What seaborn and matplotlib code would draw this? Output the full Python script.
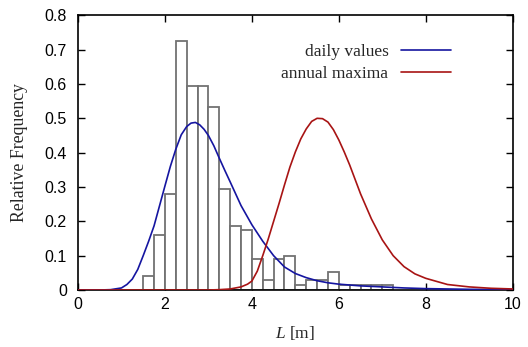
import numpy as np
import pandas as pd
import matplotlib
matplotlib.use("Agg")
import matplotlib.pyplot as plt
import seaborn as sns

# histogram: left edges of bins (width 0.25) and relative frequencies
bin_left = [1.5, 1.75, 2.0, 2.25, 2.5, 2.75, 3.0, 3.25, 3.5, 3.75, 4.0, 4.25,
            4.5, 4.75, 5.0, 5.25, 5.5, 5.75, 6.0, 6.25, 6.5, 6.75, 7.0]
bin_freq = [0.04, 0.16, 0.28, 0.725, 0.593, 0.593, 0.534, 0.294, 0.185, 0.174,
            0.09, 0.028, 0.09, 0.1, 0.016, 0.028, 0.028, 0.052, 0.016, 0.016,
            0.016, 0.016, 0.016]
bin_width = 0.25

# daily values curve
daily_x = [0.0, 0.5, 0.75, 1.0, 1.125, 1.25, 1.375, 1.5, 1.625, 1.75, 1.875, 2.0,
           2.125, 2.25, 2.375, 2.5, 2.6, 2.7, 2.8, 2.9, 3.0, 3.125, 3.25, 3.375,
           3.5, 3.75, 4.0, 4.25, 4.5, 4.75, 5.0, 5.25, 5.5, 5.75, 6.0, 6.5, 7.0,
           7.5, 8.0, 9.0, 10.0]
daily_y = [0.0, 0.0, 0.001, 0.006, 0.016, 0.032, 0.06, 0.1, 0.142, 0.187, 0.245,
           0.303, 0.36, 0.41, 0.452, 0.476, 0.486, 0.488, 0.481, 0.468, 0.45,
           0.42, 0.384, 0.349, 0.315, 0.246, 0.19, 0.142, 0.1, 0.067, 0.048,
           0.036, 0.027, 0.021, 0.017, 0.012, 0.009, 0.006, 0.004, 0.002, 0.001]

# annual maxima curve
annual_x = [0.0, 3.0, 3.25, 3.5, 3.75, 3.9, 4.0, 4.125, 4.25, 4.375, 4.5, 4.625,
            4.75, 4.875, 5.0, 5.125, 5.25, 5.375, 5.5, 5.625, 5.75, 5.875, 6.0,
            6.125, 6.25, 6.375, 6.5, 6.75, 7.0, 7.25, 7.5, 7.75, 8.0, 8.5, 9.0,
            9.5, 10.0]
annual_y = [0.0, 0.0, 0.001, 0.003, 0.009, 0.017, 0.026, 0.055, 0.1, 0.148, 0.2,
            0.252, 0.306, 0.358, 0.402, 0.44, 0.469, 0.491, 0.5, 0.499, 0.489,
            0.467, 0.437, 0.402, 0.364, 0.322, 0.28, 0.207, 0.146, 0.1, 0.068,
            0.047, 0.034, 0.016, 0.009, 0.005, 0.003]

x_ticks = [0, 2, 4, 6, 8, 10]
y_ticks = [0, 0.1, 0.2, 0.3, 0.4, 0.5, 0.6, 0.7, 0.8]
y_tick_labels = ["0", "0.1", "0.2", "0.3", "0.4", "0.5", "0.6", "0.7", "0.8"]

sns.set_style("ticks")
plt.rcParams["font.family"] = ["Liberation Sans", "DejaVu Sans"]
plt.rcParams["mathtext.fontset"] = "custom"
plt.rcParams["mathtext.it"] = "Liberation Serif:italic"
plt.rcParams["mathtext.rm"] = "Liberation Serif"

fig = plt.figure(figsize=(5.28, 3.47), dpi=100)
ax = fig.add_axes([78 / 528, 57 / 347, 434.7 / 528, 274.7 / 347])

hist_df = pd.DataFrame({"L": np.array(bin_left) + bin_width / 2, "f": bin_freq})
edges = list(bin_left) + [bin_left[-1] + bin_width]
sns.histplot(data=hist_df, x="L", weights="f", bins=edges, stat="count",
             fill=True, color="white", edgecolor="#727272", linewidth=1.3,
             alpha=1.0, ax=ax, zorder=1)

daily_df = pd.DataFrame({"x": daily_x, "y": daily_y})
annual_df = pd.DataFrame({"x": annual_x, "y": annual_y})
sns.lineplot(data=daily_df, x="x", y="y", color="#1515a0", linewidth=1.2,
             ax=ax, label="daily values", zorder=3)
sns.lineplot(data=annual_df, x="x", y="y", color="#a81414", linewidth=1.2,
             ax=ax, label="annual maxima", zorder=3)

ax.set_xlim(0, 10)
ax.set_ylim(0, 0.8)
ax.set_xticks(x_ticks)
ax.set_xticklabels([str(t) for t in x_ticks])
ax.set_yticks(y_ticks)
ax.set_yticklabels(y_tick_labels)
ax.tick_params(direction="in", length=5, width=1, top=True, right=True,
               labelsize=11.5, colors="black")
ax.tick_params(axis="y", pad=8)
ax.tick_params(axis="x", pad=5)
for s in ax.spines.values():
    s.set_linewidth(1.2)
    s.set_color("black")

ax.set_xlabel("$L$ [m]", fontfamily="Liberation Serif", fontsize=12.5, labelpad=9)
ax.set_ylabel("Relative Frequency", fontfamily="Liberation Serif", fontsize=12.8,
              labelpad=12)

leg = ax.legend(loc="upper right", bbox_to_anchor=(0.874, 0.92), frameon=False,
                markerfirst=False, handlelength=2.9, handletextpad=0.7,
                labelspacing=0.3, borderaxespad=0,
                prop={"family": "Liberation Serif", "size": 12.5})

fig.savefig("out.png", dpi=100)
